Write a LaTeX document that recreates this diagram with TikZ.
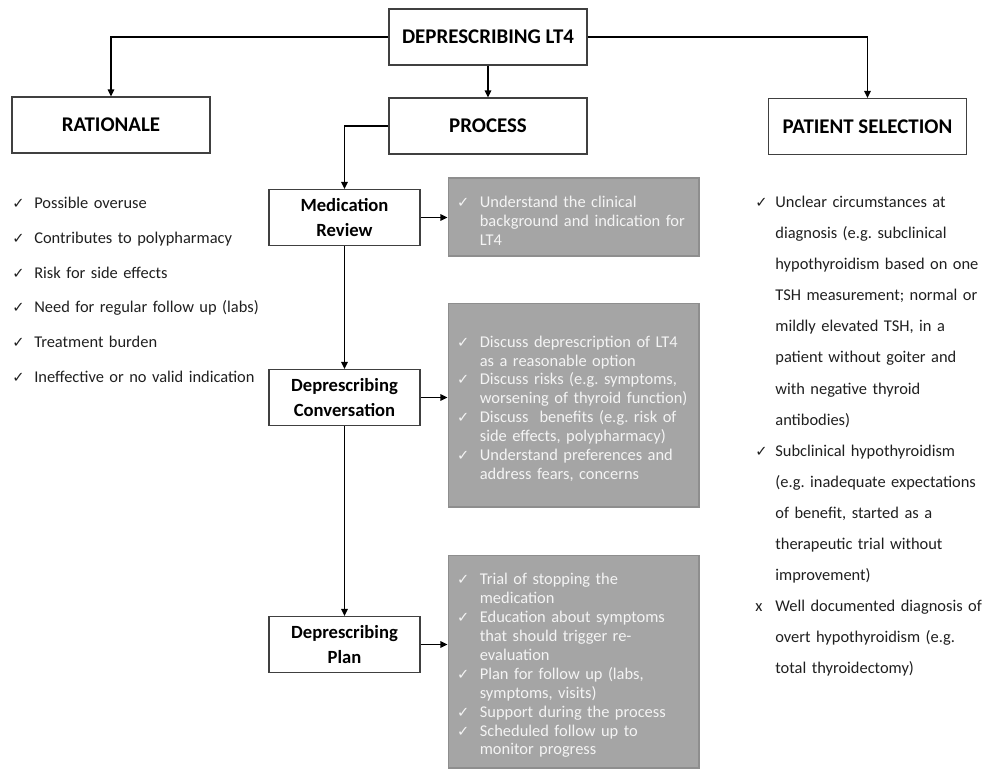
\documentclass[tikz,border=0pt]{standalone}
\usepackage{fontspec}
\setmainfont{Carlito}
\newfontfamily\symfont{DejaVu Sans}
\usetikzlibrary{arrows.meta,positioning}
\frenchspacing
\definecolor{notegray}{HTML}{A5A5A5}
\definecolor{noteedge}{HTML}{8E8E8E}
\definecolor{notetext}{HTML}{F4F4F4}
\newcommand{\chk}{{\symfont\fontsize{8.3}{8}\selectfont ✓}}
\newcommand{\hangitem}[2]{\par\noindent\hangindent=#1\hangafter=1\makebox[#1][l]{#2}\ignorespaces}
\tikzset{
  headbox/.style={draw=black!75,line width=0.6pt,minimum width=3.96cm,minimum height=1.12cm,inner sep=0pt,font=\bfseries\fontsize{11.9}{14}\selectfont},
  stepbox/.style={draw=black!75,line width=0.6pt,minimum width=3.02cm,minimum height=1.12cm,inner sep=0pt,align=center,font=\bfseries\fontsize{10.6}{14.2}\selectfont},
  notebox/.style={fill=notegray,draw=noteedge,line width=0.6pt,text=notetext,text width=4.66cm,align=left,inner xsep=0.18cm,inner ysep=0pt,font=\fontsize{9.35}{10.8}\selectfont},
  listtext/.style={text width=5.6cm,align=left,inner sep=0pt,anchor=north west,text=black!88},
  conn/.style={line width=1pt,-{Triangle[length=4pt,width=3.6pt]}}
}

\begin{document}
\begin{tikzpicture}[x=0.02cm,y=-0.02cm]
  \useasboundingbox (0,0) rectangle (984,769);
  \node[headbox] (top) at (488,37) {DEPRESCRIBING LT4};
  \node[headbox] (rat) at (111,125) {RATIONALE};
  \node[headbox] (proc) at (488,126) {PROCESS};
  \node[headbox] (pat) at (867.5,126.5) {PATIENT SELECTION};
  \node[stepbox] (medrev) at (344.5,217.5) {Medication\\Review};
  \node[stepbox] (conv) at (344.5,397.5) {Deprescribing\\Conversation};
  \node[stepbox] (plan) at (344.5,644.5) {Deprescribing\\Plan};
  \node[notebox,minimum height=1.56cm] (g1) at (573.5,217) {%
    \hangitem{13pt}{\chk}Understand the clinical\newline background and indication for\newline LT4\par};
  \node[notebox,minimum height=4.08cm] (g2) at (573.5,405) {%
    \hangitem{13pt}{\chk}Discuss deprescription of LT4\newline as a reasonable option
    \hangitem{13pt}{\chk}Discuss risks (e.g. symptoms,\newline worsening of thyroid function)
    \hangitem{13pt}{\chk}Discuss\ \ benefits (e.g. risk of\newline side effects, polypharmacy)
    \hangitem{13pt}{\chk}Understand preferences and\newline address fears, concerns\par};
  \node[notebox,minimum height=4.26cm] (g3) at (573.5,661.5) {%
    \hangitem{13pt}{\chk}Trial of stopping the\newline medication
    \hangitem{13pt}{\chk}Education about symptoms\newline that should trigger re-\newline evaluation
    \hangitem{13pt}{\chk}Plan for follow up (labs,\newline symptoms, visits)
    \hangitem{13pt}{\chk}Support during the process
    \hangitem{13pt}{\chk}Scheduled follow up to\newline monitor progress\par};

  \node[listtext,font=\fontsize{9.35}{19.7}\selectfont] (ratlist) at (12,174) {%
    \hangitem{12.5pt}{\chk}Possible overuse
    \hangitem{12.5pt}{\chk}Contributes to polypharmacy
    \hangitem{12.5pt}{\chk}Risk for side effects
    \hangitem{12.5pt}{\chk}Need for regular follow up (labs)
    \hangitem{12.5pt}{\chk}Treatment burden
    \hangitem{12.5pt}{\chk}Ineffective or no valid indication\par};
  \node[listtext,font=\fontsize{9.35}{17.7}\selectfont] (patlist) at (755,176) {%
    \hangitem{11.4pt}{\chk}Unclear circumstances at\newline diagnosis (e.g. subclinical\newline hypothyroidism based on one\newline TSH measurement; normal or\newline mildly elevated TSH, in a\newline patient without goiter and\newline with negative thyroid\newline antibodies)
    \hangitem{11.4pt}{\chk}Subclinical hypothyroidism\newline (e.g. inadequate expectations\newline of benefit, started as a\newline therapeutic trial without\newline improvement)
    \hangitem{11.4pt}{x}Well documented diagnosis of\newline overt hypothyroidism (e.g.\newline total thyroidectomy)\par};

  \draw[conn] (top.west) -| (rat.north);
  \draw[conn] (top.east) -| (pat.north);
  \draw[conn] (top.south) -- (top.south |- proc.north);
  \draw[conn] (proc.west) -| (medrev.north);
  \draw[conn] (medrev.south) -- (conv.north);
  \draw[conn] (conv.south) -- (plan.north);
  \draw[conn] (medrev.east) -- (medrev.east -| g1.west);
  \draw[conn] (conv.east) -- (conv.east -| g2.west);
  \draw[conn] (plan.east) -- (plan.east -| g3.west);
\end{tikzpicture}
\end{document}
